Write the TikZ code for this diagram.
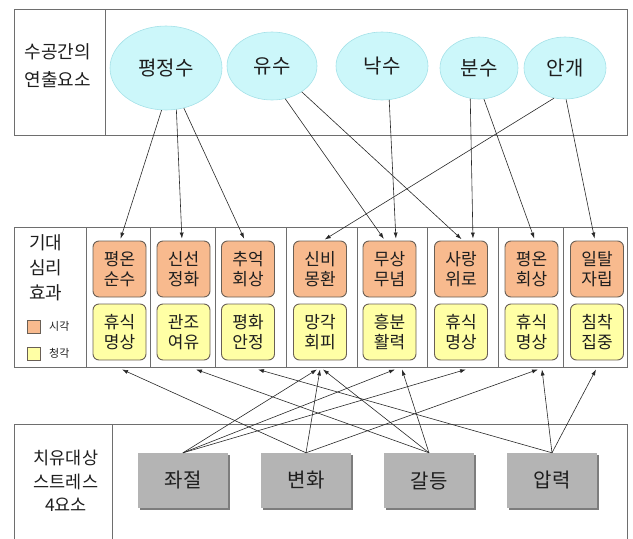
\documentclass[tikz,border=0pt]{standalone}
\usepackage{fontspec}
\setmainfont{Noto Sans CJK KR}
\usetikzlibrary{shapes.geometric,arrows.meta,shadows}
\definecolor{ellfill}{RGB}{204,247,250}
\definecolor{elledge}{RGB}{165,225,232}
\definecolor{orfill}{RGB}{248,186,142}
\definecolor{yefill}{RGB}{255,255,165}
\definecolor{boxedge}{RGB}{105,95,85}
\definecolor{gfill}{RGB}{180,180,180}
\definecolor{gshadow}{RGB}{125,125,125}
\definecolor{framecol}{RGB}{110,110,110}
\definecolor{conn}{RGB}{40,40,40}
\definecolor{txt}{RGB}{30,30,30}
\begin{document}
\begin{tikzpicture}[x=1pt,y=-1pt,
  framel/.style={draw=framecol,line width=0.9pt},
  elem/.style={ellipse,fill=ellfill,draw=elledge,line width=0.6pt,inner sep=0pt,font=\fontsize{20}{24}\selectfont,text=txt},
  effect/.style={rounded corners=6pt,draw=boxedge,line width=0.9pt,minimum width=53pt,minimum height=56pt,inner sep=0pt,align=center,font=\fontsize{17}{19.5}\selectfont,text=txt},
  vis/.style={effect,fill=orfill},
  aud/.style={effect,fill=yefill},
  stressbox/.style={fill=gfill,minimum width=90pt,minimum height=55pt,inner sep=0pt,font=\fontsize{20}{24}\selectfont,text=txt,drop shadow={shadow xshift=2pt,shadow yshift=-2pt,fill=gshadow,opacity=1}},
  sectlabel/.style={align=center,text=txt,inner sep=0pt},
  legbox/.style={draw=boxedge,line width=0.7pt,minimum width=13pt,minimum height=13pt,inner sep=0pt},
  arr/.style={draw=conn,line width=0.6pt,-{Latex[length=6pt,width=4pt]}},
]
\useasboundingbox (0,0) rectangle (633,539);
% frames
\draw[framel] (14,9) rectangle (627,135);
\draw[framel] (105,9) -- (105,135);
\draw[framel] (14,227) rectangle (627,367);
\foreach \x in {86,150,215,286,357,427,498,563} \draw[framel] (\x,227) -- (\x,367);
\draw[framel] (14,545) -- (14,424) -- (627,424) -- (627,545);
\draw[framel] (112,424) -- (112,545);

% section labels
\node[sectlabel,font=\fontsize{18}{28}\selectfont] (lab1) at (58,66) {수공간의\\연출요소};
\node[sectlabel,font=\fontsize{18}{25}\selectfont] (lab2) at (46,268) {기대\\심리\\효과};
\node[sectlabel,font=\fontsize{17.5}{23.5}\selectfont] (lab3) at (66,481) {치유대상\\스트레스\\4요소};

% legend
\node[legbox,fill=orfill] (leg1) at (34,326.5) {};
\node[legbox,fill=yefill] (leg2) at (34,353.5) {};
\node[sectlabel,font=\fontsize{11}{13}\selectfont,anchor=west] (legt1) at (49,326.5) {시각};
\node[sectlabel,font=\fontsize{11}{13}\selectfont,anchor=west] (legt2) at (49,353.5) {청각};

% water elements
\node[elem,minimum width=112pt,minimum height=84pt] (e1) at (166,68) {평정수};
\node[elem,minimum width=90pt,minimum height=68pt] (e2) at (272,66) {유수};
\node[elem,minimum width=92pt,minimum height=68pt] (e3) at (382,66) {낙수};
\node[elem,minimum width=78pt,minimum height=62pt] (e4) at (479,68) {분수};
\node[elem,minimum width=82pt,minimum height=62pt] (e5) at (565,68) {안개};

% effects
\node[vis] (o1) at (119.5,269) {평온\\순수};
\node[vis] (o2) at (183.5,269) {신선\\정화};
\node[vis] (o3) at (248,269) {추억\\회상};
\node[vis] (o4) at (320,269) {신비\\몽환};
\node[vis] (o5) at (389.5,269) {무상\\무념};
\node[vis] (o6) at (461,269) {사랑\\위로};
\node[vis] (o7) at (531.5,269) {평온\\회상};
\node[vis] (o8) at (597,269) {일탈\\자립};
\node[aud] (y1) at (119.5,332) {휴식\\명상};
\node[aud] (y2) at (183.5,332) {관조\\여유};
\node[aud] (y3) at (248,332) {평화\\안정};
\node[aud] (y4) at (320,332) {망각\\회피};
\node[aud] (y5) at (389.5,332) {흥분\\활력};
\node[aud] (y6) at (461,332) {휴식\\명상};
\node[aud] (y7) at (531.5,332) {휴식\\명상};
\node[aud] (y8) at (597,332) {침착\\집중};

% stress factors
\node[stressbox] (g1) at (183,480.5) {좌절};
\node[stressbox] (g2) at (306,480.5) {변화};
\node[stressbox] (g3) at (429,480.5) {갈등};
\node[stressbox] (g4) at (552,480.5) {압력};

% top connectors
\draw[arr,shorten >=2pt] (e1.-96) -- ([xshift=0.5pt]o1.north);
\draw[arr,shorten >=2pt] (e1.-76) -- ([xshift=-1.5pt]o2.north);
\draw[arr,shorten >=2pt] (e1.-66) -- ([xshift=-3pt]o3.north);
\draw[arr,shorten >=2pt] (e2.-68) -- ([xshift=-4.5pt]o5.north);
\draw[arr,shorten >=2pt] (e2.-41) -- ([xshift=2pt]o6.north);
\draw[arr,shorten >=2pt] (e3.-78) -- ([xshift=6.5pt]o5.north);
\draw[arr,shorten >=2pt] (e4.-106) -- ([xshift=12pt]o6.north);
\draw[arr,shorten >=2pt] (e4.-81) -- ([xshift=3.5pt]o7.north);
\draw[arr,shorten >=2pt] (e5.-110) -- ([xshift=3pt]o4.north);
\draw[arr,shorten >=2pt] (e5.-88) -- ([xshift=-2pt]o8.north);

% bottom connectors
\draw[arr] (g1.north) -- ([xshift=-3pt,yshift=-9pt]y4.south);
\draw[arr] (g1.north) -- ([xshift=5.5pt,yshift=-9pt]y5.south);
\draw[arr] (g1.north) -- ([xshift=5pt,yshift=-9pt]y6.south);
\draw[arr] (g2.north) -- ([xshift=2.5pt,yshift=-9pt]y1.south);
\draw[arr] (g2.north) -- ([xshift=0pt,yshift=-9pt]y4.south);
\draw[arr] (g2.north) -- ([xshift=6.5pt,yshift=-9pt]y7.south);
\draw[arr] (g3.north) -- ([xshift=12.5pt,yshift=-9pt]y2.south);
\draw[arr] (g3.north) -- ([xshift=3pt,yshift=-9pt]y4.south);
\draw[arr] (g3.north) -- ([xshift=12.5pt,yshift=-9pt]y5.south);
\draw[arr] (g4.north) -- ([xshift=10pt,yshift=-9pt]y3.south);
\draw[arr] (g4.north) -- ([xshift=10.5pt,yshift=-9pt]y7.south);
\draw[arr] (g4.north) -- ([xshift=-1pt,yshift=-9pt]y8.south);
\end{tikzpicture}
\end{document}
